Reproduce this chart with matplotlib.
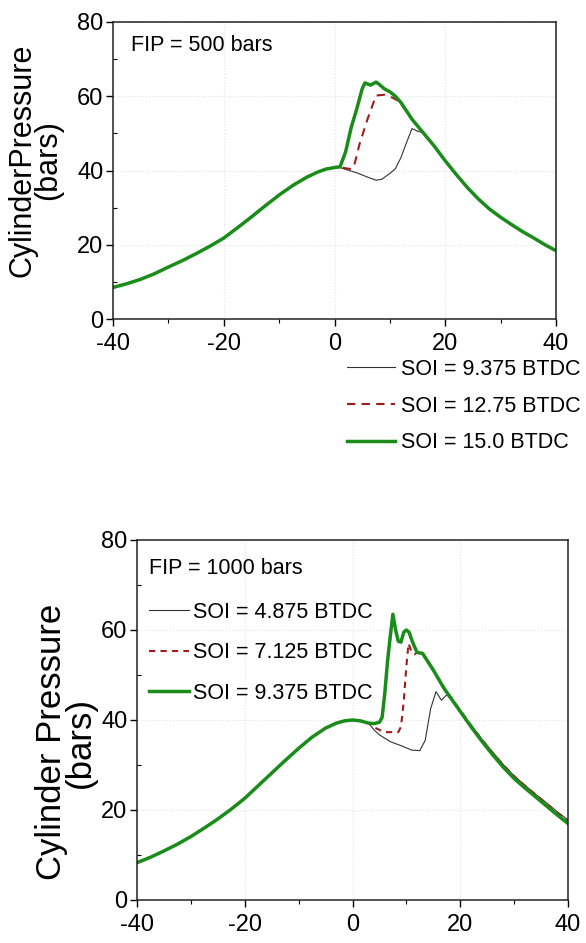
import numpy as np
import matplotlib
matplotlib.use("Agg")
import matplotlib.pyplot as plt
from matplotlib.ticker import MultipleLocator

plt.rcParams['font.family'] = ['Liberation Sans', 'DejaVu Sans']
plt.rcParams['axes.unicode_minus'] = False

# ---- FIP = 500 bars (top panel) ----
base500_ang = [-40, -37.5, -35, -32.5, -30, -27.5, -25, -22.5, -20, -17.5, -15, -12.5, -10,
               -7.5, -5, -3, -1.5, 0]
base500_p = [8.5, 9.5, 10.7, 12.2, 14.0, 15.7, 17.6, 19.6, 21.8, 24.6, 27.5, 30.5, 33.4,
             36.0, 38.2, 39.6, 40.4, 40.8]
tail500_ang = [16, 18, 20, 22, 24, 26, 28, 30, 32, 34, 36, 38, 40]
tail500_p = [50.2, 46.6, 42.6, 38.9, 35.4, 32.3, 29.6, 27.4, 25.4, 23.5, 21.8, 20.0, 18.4]

soi150_ang = [1, 2, 3, 4, 5, 5.5, 6.5, 7.5, 8, 9, 10, 11, 12, 14]
soi150_p = [41.0, 45.0, 51.5, 56.5, 62.0, 63.6, 63.0, 63.8, 63.3, 62.0, 61.2, 60.0, 58.3, 53.8]
soi1275_ang = [1, 2, 3, 3.5, 4.5, 6, 7.5, 9, 10.5, 11.5, 12.5, 14]
soi1275_p = [40.9, 40.6, 40.4, 41.0, 47.0, 54.0, 60.2, 60.4, 59.6, 58.8, 57.0, 53.8]
soi9375a_ang = [1, 2, 4, 6, 7.5, 8.5, 10, 11, 12, 13, 14, 15]
soi9375a_p = [40.8, 40.3, 39.4, 38.2, 37.4, 37.6, 39.2, 40.5, 43.5, 47.5, 51.3, 50.6]

labels500 = ["SOI = 9.375 BTDC", "SOI = 12.75 BTDC", "SOI = 15.0 BTDC"]

# ---- FIP = 1000 bars (bottom panel) ----
base1000_ang = [-40, -37.5, -35, -32.5, -30, -27.5, -25, -22.5, -20, -17.5, -15, -12.5, -10,
                -7.5, -5, -3, -1.5, 0, 1.5, 3]
base1000_p = [8.3, 9.5, 10.9, 12.4, 14.1, 16.0, 18.0, 20.2, 22.6, 25.4, 28.2, 31.0, 33.7,
              36.2, 38.2, 39.3, 39.8, 40.0, 39.8, 39.3]

soi9375b_ang = [4, 5, 5.5, 6, 6.5, 7, 7.5, 8, 8.5, 9, 9.5, 10, 10.5, 11, 11.5, 12, 13, 15, 17,
                20, 22, 24, 26, 28, 30, 32, 34, 36, 38, 40]
soi9375b_p = [39.2, 39.5, 40.6, 46.0, 53.0, 58.5, 63.5, 60.0, 57.5, 57.3, 59.5, 60.0, 59.5, 57.8,
              56.3, 55.0, 54.8, 51.1, 47.0, 41.9, 38.5, 35.3, 32.3, 29.5, 27.0, 24.9, 22.9,
              20.9, 18.9, 17.0]
soi7125_ang = [4, 5, 6, 8.5, 9, 9.5, 10, 10.4, 11, 11.5, 12, 13, 15, 17, 20, 22, 24, 26, 28, 30,
               32, 34, 36, 38, 40]
soi7125_p = [38.4, 37.8, 37.3, 37.3, 38.5, 44.0, 52.0, 57.0, 55.0, 54.6, 55.0, 54.7, 51.2, 47.1,
             42.2, 38.8, 35.7, 32.7, 30.0, 27.5, 25.4, 23.4, 21.4, 19.4, 17.6]
soi4875_ang = [4, 5, 7, 9, 11, 12.5, 13.5, 14.5, 15.5, 16.5, 17.5, 18, 20, 22, 24, 26, 28, 30,
               32, 34, 36, 38, 40]
soi4875_p = [37.8, 36.7, 35.2, 34.3, 33.3, 33.2, 35.5, 42.5, 46.3, 44.4, 45.6, 45.0, 42.0, 38.9,
             35.8, 32.9, 30.1, 27.6, 25.5, 23.5, 21.6, 19.6, 17.8]

labels1000 = ["SOI = 4.875 BTDC", "SOI = 7.125 BTDC", "SOI = 9.375 BTDC"]

black = '#333333'
red = '#a01c1c'
green = '#1a8c1a'
fs = 15.5

fig = plt.figure(figsize=(5.86, 9.43), dpi=100)
ax1 = fig.add_axes([113/586, 1-319/943, (556-113)/586, (319-22)/943])
ax2 = fig.add_axes([137/586, 1-900/943, (568-137)/586, (900-540)/943])


def style(ax):
    ax.set_xlim(-40, 40)
    ax.set_ylim(0, 80)
    ax.xaxis.set_major_locator(MultipleLocator(20))
    ax.xaxis.set_minor_locator(MultipleLocator(10))
    ax.yaxis.set_major_locator(MultipleLocator(20))
    ax.yaxis.set_minor_locator(MultipleLocator(10))
    ax.tick_params(which='major', length=5, width=1, labelsize=17, pad=2)
    ax.tick_params(axis='x', which='major', pad=5)
    ax.tick_params(which='minor', length=3, width=0.8)
    ax.tick_params(axis='y', which='minor', direction='in')
    ax.grid(True, which='major', color='#e4e4e4', linestyle=':', linewidth=0.8)
    for s in ax.spines.values():
        s.set_linewidth(1.1)
        s.set_color('#222222')


# top panel
a = base500_ang + soi9375a_ang + tail500_ang
p = base500_p + soi9375a_p + tail500_p
ax1.plot(a, p, color=black, lw=0.8, label=labels500[0])
a = base500_ang + soi1275_ang + tail500_ang
p = base500_p + soi1275_p + tail500_p
ax1.plot(a, p, color=red, lw=1.5, ls=(0, (4, 3)), label=labels500[1])
a = base500_ang + soi150_ang + tail500_ang
p = base500_p + soi150_p + tail500_p
ax1.plot(a, p, color=green, lw=2.5, label=labels500[2])
style(ax1)
ax1.text(0.04, 0.92, "FIP = 500 bars", transform=ax1.transAxes,
         fontsize=fs, va='center', ha='left')
fig.legend(loc='upper left', bbox_to_anchor=(347/586, 1-359/943), frameon=False,
           fontsize=fs, handlelength=2.25, handletextpad=0.25, labelspacing=0.73,
           borderpad=0, borderaxespad=0, handles=ax1.get_lines())

# bottom panel
ax2.plot(base1000_ang + soi4875_ang, base1000_p + soi4875_p, color=black, lw=0.8,
         label=labels1000[0])
ax2.plot(base1000_ang + soi7125_ang, base1000_p + soi7125_p, color=red, lw=1.5,
         ls=(0, (3, 2.5)), label=labels1000[1])
ax2.plot(base1000_ang + soi9375b_ang, base1000_p + soi9375b_p, color=green, lw=2.5,
         label=labels1000[2])
style(ax2)
ax2.text(0.027, 0.92, "FIP = 1000 bars", transform=ax2.transAxes,
         fontsize=fs, va='center', ha='left')
ax2.legend(loc='upper left', bbox_to_anchor=(149/586, 1-602/943),
           bbox_transform=fig.transFigure, frameon=False, fontsize=fs,
           handlelength=1.85, handletextpad=0.2, labelspacing=0.9,
           borderpad=0, borderaxespad=0)

# y labels
fig.text(35/586, 1-160/943, "CylinderPressure\n(bars)", rotation=90, ha='center', va='center',
         fontsize=22, linespacing=0.8, multialignment='center')
fig.text(66/586, 1-742/943, "Cylinder Pressure\n(bars)", rotation=90, ha='center', va='center',
         fontsize=25, linespacing=0.85, multialignment='center')

fig.savefig("out.png", dpi=100)
